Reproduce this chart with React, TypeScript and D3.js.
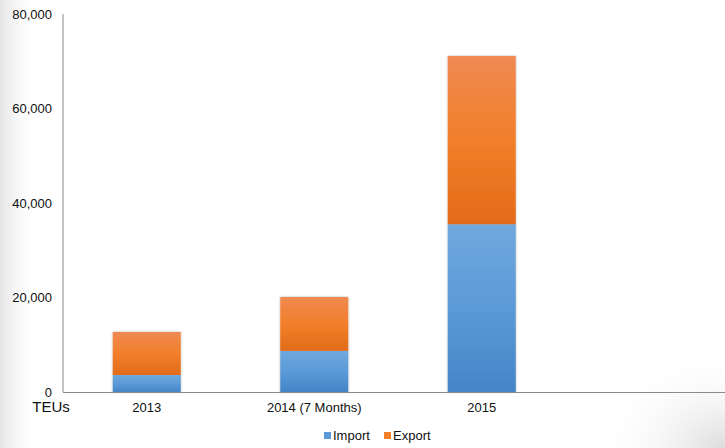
import React from "react";
import * as d3 from "d3";

const categories = ["2013", "2014 (7 Months)", "2015"];
const importValues = [3600, 8700, 35500];
const exportValues = [9100, 11400, 35600];
const yTicks = [0, 20000, 40000, 60000, 80000];
const seriesNames = ["Import", "Export"];

const W = 725;
const H = 448;

export default function App() {
  const y = d3.scaleLinear().domain([0, 80000]).range([392, 14]);
  const x = d3
    .scaleBand<string>()
    .domain(categories)
    .range([63, 63 + 3 * 167.5])
    .paddingInner(0.594)
    .paddingOuter(0.297);
  const fmt = d3.format(",");
  const rows = categories.map((c, i) => ({ cat: c, Import: importValues[i], Export: exportValues[i] }));
  const stacked = d3.stack<any>().keys(seriesNames)(rows);
  const fills = ["url(#gImp)", "url(#gExp)"];

  return (
    <svg
      width={W}
      height={H}
      style={{ position: "absolute", left: 0, top: 0, fontFamily: "'Liberation Sans', Arial, sans-serif" }}
    >
      <defs>
        <linearGradient id="gImp" x1="0" y1="0" x2="0" y2="1">
          <stop offset="0" stopColor="#70a8dd" />
          <stop offset="0.5" stopColor="#5b9ad8" />
          <stop offset="1" stopColor="#4585c6" />
        </linearGradient>
        <linearGradient id="gExp" x1="0" y1="0" x2="0" y2="1">
          <stop offset="0" stopColor="#ef8a52" />
          <stop offset="0.5" stopColor="#f27f2a" />
          <stop offset="1" stopColor="#e26b19" />
        </linearGradient>
        <linearGradient id="bgLeft" x1="0" y1="0" x2="1" y2="0">
          <stop offset="0" stopColor="#e4e4e4" />
          <stop offset="1" stopColor="#ffffff" stopOpacity="0" />
        </linearGradient>
        <radialGradient id="bgBR" cx="1" cy="1" r="0.5">
          <stop offset="0" stopColor="#dcdcdc" />
          <stop offset="1" stopColor="#ffffff" stopOpacity="0" />
        </radialGradient>
        <filter id="shadow" x="-10%" y="-10%" width="120%" height="120%">
          <feDropShadow dx="0" dy="0" stdDeviation="1.2" floodColor="#000" floodOpacity="0.3" />
        </filter>
      </defs>
      <rect x={0} y={0} width={W} height={H} fill="#fff" />
      <rect x={0} y={0} width={40} height={H} fill="url(#bgLeft)" />
      <rect x={W - 260} y={H - 200} width={260} height={200} fill="url(#bgBR)" />

      {/* bars */}
      {categories.map((c, i) => (
        <g key={c} filter="url(#shadow)">
          {stacked.map((s, k) => (
            <rect
              key={k}
              x={x(c)!}
              width={x.bandwidth()}
              y={y(s[i][1])}
              height={y(s[i][0]) - y(s[i][1])}
              fill={fills[k]}
            />
          ))}
        </g>
      ))}

      {/* axes */}
      <line x1={63} x2={63} y1={14} y2={392} stroke="#8a8a8a" strokeWidth={1} />
      <line x1={63} x2={W} y1={392.5} y2={392.5} stroke="#8a8a8a" strokeWidth={1.2} />

      {yTicks.map((t) => (
        <text key={t} x={52} y={y(t)} dy="0.35em" textAnchor="end" fontSize={13} fill="#111">
          {fmt(t)}
        </text>
      ))}
      <text x={51} y={412} textAnchor="middle" fontSize={15} fill="#111">
        TEUs
      </text>

      {categories.map((c) => (
        <text key={c} x={x(c)! + x.bandwidth() / 2} y={412} textAnchor="middle" fontSize={13} fill="#111">
          {c}
        </text>
      ))}

      {/* legend */}
      <g>
        <rect x={324} y={432} width={7} height={7} fill="#5b9ad8" />
        <text x={333} y={439.5} fontSize={13} fill="#111">
          {seriesNames[0]}
        </text>
        <rect x={384} y={432} width={7} height={7} fill="#f27f2a" />
        <text x={393} y={439.5} fontSize={13} fill="#111">
          {seriesNames[1]}
        </text>
      </g>
    </svg>
  );
}
